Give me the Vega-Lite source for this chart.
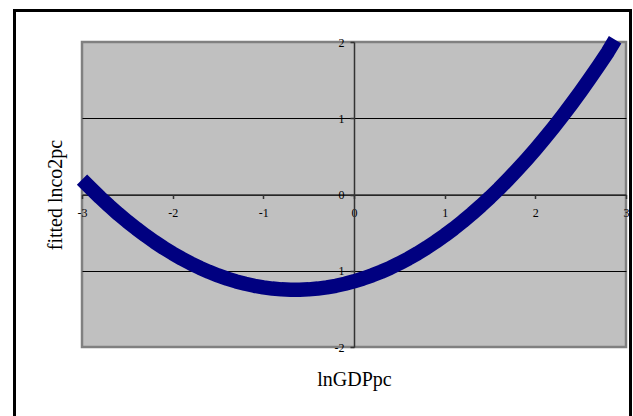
{
  "$schema": "https://vega.github.io/schema/vega-lite/v6.json",
  "width": 544,
  "height": 305,
  "autosize": "none",
  "padding": {"left": 82, "top": 42, "right": 7, "bottom": 69},
  "background": "white",
  "config": {
    "view": {"fill": "#c0c0c0", "stroke": "#808080", "strokeWidth": 2.5},
    "font": "Liberation Serif",
    "axis": {"labelFont": "Liberation Serif", "titleFont": "Liberation Serif", "labelColor": "black", "titleColor": "black", "titleFontWeight": "normal"}
  },
  "data": {
    "values": [
      {"lnGDPpc": -3.0, "fitted": 0.196},
      {"lnGDPpc": -2.9, "fitted": 0.076},
      {"lnGDPpc": -2.8, "fitted": -0.040},
      {"lnGDPpc": -2.7, "fitted": -0.150},
      {"lnGDPpc": -2.6, "fitted": -0.255},
      {"lnGDPpc": -2.5, "fitted": -0.354},
      {"lnGDPpc": -2.4, "fitted": -0.448},
      {"lnGDPpc": -2.3, "fitted": -0.537},
      {"lnGDPpc": -2.2, "fitted": -0.621},
      {"lnGDPpc": -2.1, "fitted": -0.700},
      {"lnGDPpc": -2.0, "fitted": -0.773},
      {"lnGDPpc": -1.9, "fitted": -0.841},
      {"lnGDPpc": -1.8, "fitted": -0.904},
      {"lnGDPpc": -1.7, "fitted": -0.962},
      {"lnGDPpc": -1.6, "fitted": -1.014},
      {"lnGDPpc": -1.5, "fitted": -1.061},
      {"lnGDPpc": -1.4, "fitted": -1.103},
      {"lnGDPpc": -1.3, "fitted": -1.140},
      {"lnGDPpc": -1.2, "fitted": -1.171},
      {"lnGDPpc": -1.1, "fitted": -1.197},
      {"lnGDPpc": -1.0, "fitted": -1.218},
      {"lnGDPpc": -0.9, "fitted": -1.234},
      {"lnGDPpc": -0.8, "fitted": -1.244},
      {"lnGDPpc": -0.7, "fitted": -1.249},
      {"lnGDPpc": -0.6, "fitted": -1.249},
      {"lnGDPpc": -0.5, "fitted": -1.244},
      {"lnGDPpc": -0.4, "fitted": -1.234},
      {"lnGDPpc": -0.3, "fitted": -1.218},
      {"lnGDPpc": -0.2, "fitted": -1.197},
      {"lnGDPpc": -0.1, "fitted": -1.171},
      {"lnGDPpc": 0.0, "fitted": -1.139},
      {"lnGDPpc": 0.1, "fitted": -1.102},
      {"lnGDPpc": 0.2, "fitted": -1.060},
      {"lnGDPpc": 0.3, "fitted": -1.013},
      {"lnGDPpc": 0.4, "fitted": -0.961},
      {"lnGDPpc": 0.5, "fitted": -0.903},
      {"lnGDPpc": 0.6, "fitted": -0.840},
      {"lnGDPpc": 0.7, "fitted": -0.772},
      {"lnGDPpc": 0.8, "fitted": -0.699},
      {"lnGDPpc": 0.9, "fitted": -0.620},
      {"lnGDPpc": 1.0, "fitted": -0.536},
      {"lnGDPpc": 1.1, "fitted": -0.447},
      {"lnGDPpc": 1.2, "fitted": -0.353},
      {"lnGDPpc": 1.3, "fitted": -0.253},
      {"lnGDPpc": 1.4, "fitted": -0.148},
      {"lnGDPpc": 1.5, "fitted": -0.038},
      {"lnGDPpc": 1.6, "fitted": 0.077},
      {"lnGDPpc": 1.7, "fitted": 0.198},
      {"lnGDPpc": 1.8, "fitted": 0.324},
      {"lnGDPpc": 1.9, "fitted": 0.455},
      {"lnGDPpc": 2.0, "fitted": 0.591},
      {"lnGDPpc": 2.1, "fitted": 0.733},
      {"lnGDPpc": 2.2, "fitted": 0.879},
      {"lnGDPpc": 2.3, "fitted": 1.031},
      {"lnGDPpc": 2.4, "fitted": 1.189},
      {"lnGDPpc": 2.5, "fitted": 1.351},
      {"lnGDPpc": 2.6, "fitted": 1.519},
      {"lnGDPpc": 2.7, "fitted": 1.692},
      {"lnGDPpc": 2.8, "fitted": 1.870},
      {"lnGDPpc": 2.88, "fitted": 2.030}
    ]
  },
  "layer": [
    {
      "mark": {"type": "rect", "fill": "white", "fillOpacity": 0, "stroke": "black", "strokeWidth": 1.5, "clip": false},
      "encoding": {
        "x": {"datum": -3.7445, "type": "quantitative"},
        "x2": {"datum": 3.0496},
        "y": {"datum": 2.413, "type": "quantitative"},
        "y2": {"datum": -2.96}
      }
    },
    {
      "mark": {"type": "line", "color": "#000080", "strokeWidth": 14.5, "strokeCap": "butt", "strokeJoin": "round", "clip": false},
      "encoding": {
        "x": {
          "field": "lnGDPpc", "type": "quantitative",
          "scale": {"domain": [-3, 3], "nice": false, "zero": false},
          "axis": {
            "title": "lnGDPpc", "titleFontSize": 20, "titleBaseline": "alphabetic", "titleY": 191,
            "values": [-3, -2, -1, 0, 1, 2, 3], "labelExpr": "'' + datum.value",
            "offset": -152.5, "grid": false,
            "domainColor": "#333333", "domainWidth": 1.5,
            "tickColor": "#333333", "tickSize": 4, "tickWidth": 1.5,
            "labelFontSize": 12, "labelPadding": 9, "labelFlush": false, "labelOverlap": false, "labelBound": false
          }
        },
        "y": {
          "field": "fitted", "type": "quantitative",
          "scale": {"domain": [-2, 2], "nice": false, "zero": false},
          "axis": {
            "title": "fitted lnco2pc", "titleFontSize": 20, "titleBaseline": "alphabetic", "titleX": -293, "titleAngle": 270,
            "values": [-2, -1, 0, 1, 2], "labelExpr": "'' + datum.value",
            "offset": -272,
            "grid": true, "gridColor": "black", "gridWidth": 1,
            "gridOpacity": {"condition": {"test": "abs(datum.value) == 2", "value": 0}, "value": 1},
            "domainColor": "#333333", "domainWidth": 1.5,
            "tickColor": "#333333", "tickSize": 4, "tickWidth": 1.5,
            "labelFontSize": 12, "labelPadding": 6, "labelFlush": false, "labelOverlap": false, "labelBound": false
          }
        }
      }
    }
  ]
}
